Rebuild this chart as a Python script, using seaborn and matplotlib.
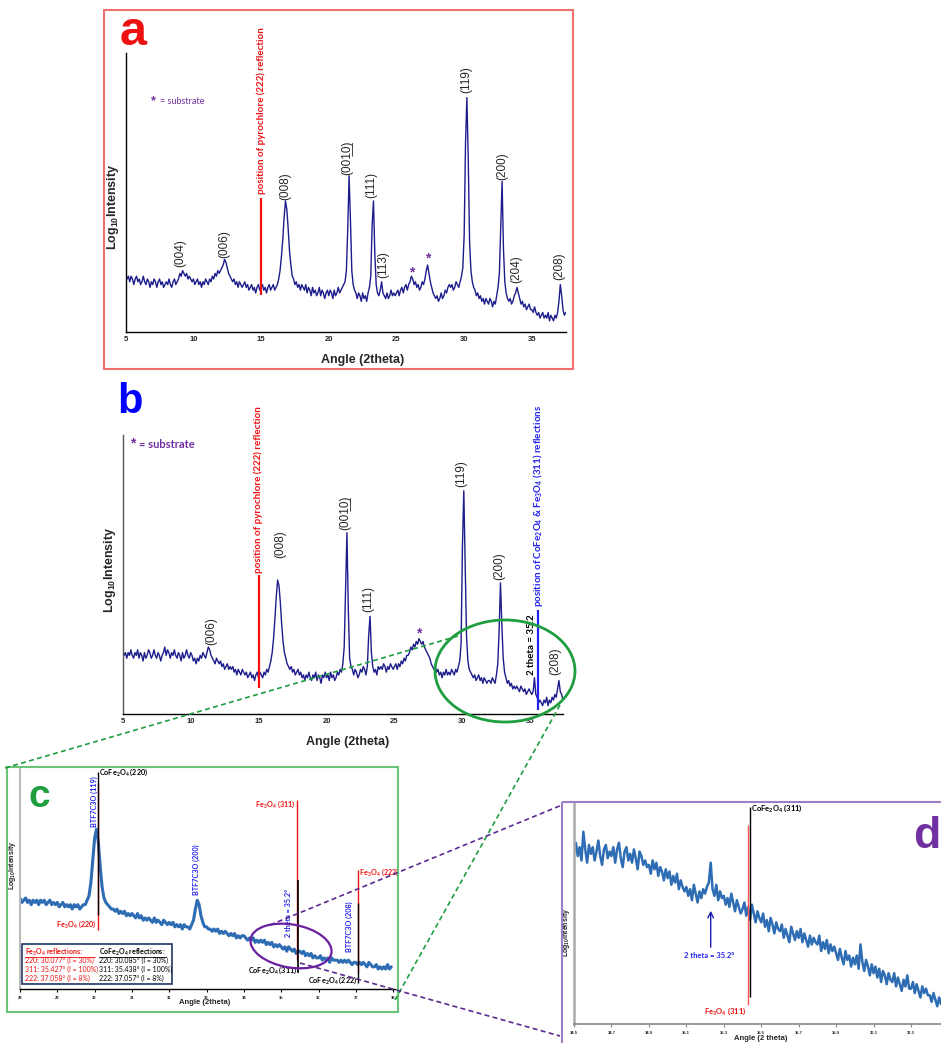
import numpy as np
import matplotlib
matplotlib.use('Agg')
import matplotlib.pyplot as plt
import seaborn as sns
from matplotlib.patches import Rectangle, Ellipse

# ---------------- data ----------------
# Panel a: log10 intensity (relative units), 2theta from 5.0 step 0.1
int_a = [
    21, 19, 20, 18, 20, 19, 17, 19, 20, 18,   # 5
    19, 17, 18, 20, 18, 17, 19, 18, 16, 18,   # 6
    17, 19, 18, 16, 18, 19, 17, 18, 16, 17,   # 7
    18, 17, 19, 17, 16, 18, 19, 17, 18, 19,   # 8
    21, 20, 22, 21, 20, 21, 19, 20, 19, 18,   # 9
    19, 17, 18, 19, 17, 18, 16, 18, 17, 19,   # 10
    18, 17, 19, 18, 20, 19, 21, 20, 22, 21,   # 11
    22, 23, 24, 26, 25, 23, 21, 20, 19, 18,   # 12
    19, 17, 18, 16, 18, 17, 16, 17, 18, 16,   # 13
    17, 15, 16, 17, 15, 16, 14, 16, 17, 15,   # 14
    16, 17, 15, 16, 14, 16, 17, 15, 16, 17,   # 15
    15, 16, 17, 19, 22, 27, 33, 41, 47, 44,   # 16
    37, 29, 24, 20, 19, 17, 18, 16, 17, 15,   # 17
    17, 16, 15, 17, 14, 16, 15, 13, 16, 14,   # 18
    15, 13, 14, 16, 13, 15, 14, 12, 14, 15,   # 19
    13, 15, 14, 12, 15, 13, 14, 16, 14, 15,   # 20
    16, 17, 18, 22, 37, 56, 40, 22, 17, 15,   # 21
    14, 12, 14, 13, 11, 14, 12, 13, 11, 14,   # 22
    16, 20, 38, 47, 28, 17, 14, 13, 15, 18,   # 23
    14, 13, 12, 14, 12, 13, 15, 13, 14, 13,   # 24
    14, 15, 13, 15, 16, 14, 16, 17, 15, 17,   # 25
    18, 20, 19, 17, 18, 16, 17, 15, 16, 18,   # 26
    17, 19, 22, 24, 21, 18, 16, 14, 13, 12,   # 27
    13, 11, 12, 14, 12, 13, 15, 14, 16, 17,   # 28
    16, 17, 15, 16, 18, 17, 16, 18, 20, 23,   # 29
    35, 68, 84, 62, 32, 22, 18, 16, 15, 13,   # 30
    14, 12, 13, 11, 12, 10, 12, 11, 10, 12,   # 31
    11, 9, 11, 10, 13, 16, 21, 38, 54, 30,    # 32
    18, 14, 12, 11, 12, 10, 11, 13, 14, 16,   # 33
    14, 12, 10, 11, 9, 10, 8, 9, 10, 8,       # 34
    8, 7, 9, 7, 6, 7, 5, 6, 7, 5,             # 35
    6, 5, 7, 4, 6, 5, 4, 6, 5, 7,             # 36
    11, 17, 13, 8, 6, 7,                      # 37
]
# Panel b
int_b = [
    23, 21, 22, 20, 22, 21, 23, 21, 20, 22,   # 5
    21, 23, 20, 22, 21, 19, 22, 20, 21, 23,   # 6
    22, 20, 21, 23, 21, 20, 22, 21, 19, 21,   # 7
    22, 24, 21, 23, 22, 20, 22, 21, 23, 21,   # 8
    20, 22, 21, 19, 22, 20, 21, 23, 21, 20,   # 9
    22, 21, 19, 20, 18, 20, 19, 21, 20, 22,   # 10
    21, 20, 22, 24, 23, 21, 20, 19, 18, 20,   # 11
    19, 18, 19, 17, 18, 16, 17, 18, 16, 17,   # 12
    16, 17, 15, 16, 14, 16, 15, 14, 16, 15,   # 13
    14, 15, 13, 14, 15, 13, 14, 12, 14, 15,   # 14
    13, 15, 14, 13, 15, 14, 16, 15, 17, 19,   # 15
    22, 27, 34, 42, 48, 46, 40, 32, 26, 22,   # 16
    20, 18, 17, 16, 17, 15, 16, 14, 15, 16,   # 17
    14, 15, 13, 14, 12, 14, 13, 15, 13, 12,   # 18
    14, 13, 15, 12, 14, 13, 11, 14, 13, 15,   # 19
    13, 14, 12, 15, 13, 14, 12, 13, 15, 14,   # 20
    16, 15, 18, 24, 45, 65, 38, 20, 17, 16,   # 21
    14, 16, 15, 13, 14, 16, 15, 17, 16, 14,   # 22
    17, 28, 35, 22, 17, 15, 16, 14, 17, 16,   # 23
    17, 16, 18, 17, 15, 17, 16, 18, 17, 16,   # 24
    17, 18, 16, 18, 17, 19, 18, 20, 19, 21,   # 25
    21, 22, 24, 23, 25, 24, 26, 25, 27, 26,   # 26
    25, 26, 24, 23, 22, 21, 20, 18, 17, 16,   # 27
    17, 15, 16, 14, 15, 13, 15, 14, 16, 14,   # 28
    15, 14, 16, 15, 14, 16, 15, 17, 19, 25,   # 29
    60, 80, 55, 28, 19, 16, 15, 14, 13, 14,   # 30
    12, 13, 14, 12, 13, 11, 13, 12, 11, 12,   # 31
    12, 11, 13, 12, 11, 14, 18, 30, 47, 32,   # 32
    20, 15, 13, 11, 12, 10, 11, 9, 10, 9,     # 33
    10, 9, 8, 10, 9, 8, 9, 7, 8, 9,           # 34
    8, 7, 8, 13, 7, 6, 4, 5, 4, 3,            # 35
    5, 4, 6, 3, 5, 4, 6, 5, 7, 6,             # 36
    9, 12, 8, 7, 5,                           # 37
]
# Panel c: 2theta from 28.00 step 0.05
int_c = [
    41, 39, 40, 41, 39, 40, 38, 40, 39, 40, 38, 40, 39, 40, 38, 39, 40, 38, 39, 38,  # 28
    39, 37, 38, 39, 37, 38, 37, 38, 36, 38, 37, 38, 36, 37, 38, 38, 40, 42, 48, 58,  # 29
    68, 72, 66, 55, 46, 41, 39, 38, 37, 36, 36, 35, 36, 34, 35, 34, 35, 33, 34, 33,  # 30
    34, 33, 32, 34, 32, 33, 31, 32, 31, 32, 31, 30, 32, 30, 31, 30, 29, 31, 30, 29,  # 31
    30, 29, 30, 28, 29, 28, 29, 27, 29, 28, 28, 27, 29, 31, 36, 40, 38, 33, 30, 28,  # 32
    28, 27, 27, 26, 27, 26, 27, 25, 26, 25, 26, 25, 24, 25, 24, 25, 23, 24, 23, 24,  # 33
    24, 23, 22, 23, 22, 23, 21, 22, 21, 22, 21, 22, 20, 21, 20, 21, 19, 20, 19, 20,  # 34
    19, 18, 19, 17, 19, 18, 17, 18, 16, 17, 17, 16, 17, 15, 16, 15, 16, 14, 15, 14,  # 35
    14, 15, 13, 14, 13, 14, 12, 14, 13, 13, 13, 12, 13, 12, 13, 12, 13, 12, 11, 12,  # 36
    12, 11, 12, 11, 12, 11, 10, 12, 11, 10, 10, 11, 9, 10, 9, 10, 9, 11, 9, 10,      # 37
]
# Panel d: 2theta from 34.50 step 0.01
int_d = [
    78, 82, 76, 80, 74, 87, 79, 73, 81, 77,   # 34.5
    80, 74, 78, 83, 76, 72, 79, 81, 75, 78,   # 34.6
    76, 80, 73, 79, 82, 75, 71, 78, 80, 74,   # 34.7
    77, 73, 79, 75, 70, 78, 76, 72, 74, 71,   # 34.8
    72, 68, 74, 70, 73, 67, 71, 69, 65, 70,   # 34.9
    66, 69, 63, 67, 64, 68, 61, 65, 62, 60,   # 35.0
    62, 58, 61, 56, 63, 59, 55, 60, 57, 61,   # 35.1
    59, 62, 64, 73, 61, 58, 63, 56, 60, 57,   # 35.2
    58, 54, 57, 53, 59, 55, 51, 56, 53, 50,   # 35.3
    52, 55, 49, 53, 47, 54, 50, 46, 51, 48,   # 35.4
    46, 50, 44, 47, 42, 48, 45, 41, 46, 43,   # 35.5
    42, 45, 39, 43, 40, 37, 44, 41, 38, 42,   # 35.6
    39, 43, 37, 41, 38, 35, 40, 36, 39, 37,   # 35.7
    36, 40, 33, 37, 34, 38, 32, 36, 33, 35,   # 35.8
    32, 29, 34, 30, 27, 33, 29, 31, 26, 30,   # 35.9
    27, 31, 25, 36, 28, 24, 29, 26, 22, 27,   # 36.0
    23, 26, 21, 25, 19, 24, 22, 18, 23, 20,   # 36.1
    19, 23, 17, 21, 18, 15, 20, 17, 22, 16,   # 36.2
    16, 19, 14, 18, 15, 12, 17, 14, 16, 13,   # 36.3
    13, 10, 14, 11, 8, 12, 9,                 # 36.4
]
theta_a = 5.0 + 0.1 * np.arange(len(int_a))
theta_b = 5.0 + 0.1 * np.arange(len(int_b))
theta_c = 28.0 + 0.05 * np.arange(len(int_c))
theta_d = 34.5 + 0.01 * np.arange(len(int_d))

hkl_a = ['(004)', '(006)', '(008)', '(001\u03320\u0332)', '(111)', '(113)', '(119)', '(200)', '(204)', '(208)']
hkl_a_x = [9.0, 12.26, 16.76, 21.4, 23.16, 24.0, 30.18, 32.83, 33.87, 37.0]
hkl_a_y = [23.3, 26.5, 47.3, 56.3, 48, 19.4, 85.7, 54.5, 17.6, 18.6]
sub_a_x = [26.1, 27.3]
sub_a_y = [21.5, 26.2]

hkl_b = ['(006)', '(008)', '(001\u03320\u0332)', '(111)', '(119)', '(200)', '(208)']
hkl_b_x = [11.5, 16.57, 21.35, 23.06, 29.9, 32.7, 36.8]
hkl_b_y = [24.7, 55.9, 66, 36.6, 81.4, 48, 14]
sub_b_x = [26.8]
sub_b_y = [29]

xt_ab = [5, 10, 15, 20, 25, 30, 35]
xt_c = [28, 29, 30, 31, 32, 33, 34, 35, 36, 37, 38]
xt_d = [34.5, 34.7, 34.9, 35.1, 35.3, 35.5, 35.7, 35.9, 36.1, 36.3]

fe3o4_refl = ['220: 30.077\u00b0 (I = 30%)', '311: 35.427\u00b0 (I = 100%)', '222: 37.058\u00b0 (I = 8%)']
cofe2o4_refl = ['220: 30.085\u00b0 (I = 30%)', '311: 35.438\u00b0 (I = 100%)', '222: 37.057\u00b0 (I = 8%)']

# ---------------- style ----------------
sns.set_style('white')
plt.rcParams['font.family'] = ['Liberation Sans', 'DejaVu Sans']
plt.rcParams['mathtext.default'] = 'regular'

NAVY = '#1c1c8c'
RED = '#ee1111'
BLUE = '#2222ee'
PURPLE = '#7030a0'
GREEN = '#1f9e40'
CBLUE = '#2e6db4'
CAL = ['Lato', 'DejaVu Sans']

W, H = 941, 1043
fig = plt.figure(figsize=(W / 100, H / 100), dpi=100)


def ax_px(l, t, r, b):
    return fig.add_axes([l / W, 1 - b / H, (r - l) / W, (b - t) / H])


def T(px, py, s, **kw):
    return fig.text(px / W, 1 - py / H, s, **kw)


def style_axes(ax, xt, xlim, lsz, ycol='black', ylw=1.0, xcol='black', xlw=1.0, tick_len=0):
    ax.set_xlim(*xlim)
    ax.set_ylim(0, 100)
    ax.set_yticks([])
    ax.set_xticks(xt)
    ax.set_xticklabels([('%g' % v) for v in xt], fontweight='bold')
    ax.tick_params(axis='x', length=tick_len, width=0.8, color=xcol, labelsize=lsz, pad=3, bottom=True)
    for s in ['top', 'right']:
        ax.spines[s].set_visible(False)
    ax.spines['left'].set_color(ycol)
    ax.spines['left'].set_linewidth(ylw)
    ax.spines['bottom'].set_color(xcol)
    ax.spines['bottom'].set_linewidth(xlw)
    ax.set_xlabel('')
    ax.set_ylabel('')
    ax.patch.set_alpha(0)


# ---------------- panel a ----------------
axa = ax_px(125.7, 53, 566, 332)
sns.lineplot(x=theta_a, y=int_a, ax=axa, color=NAVY, linewidth=1.0)
style_axes(axa, xt_ab, (5, 37.52), 5.5)
for s, x, y in zip(hkl_a, hkl_a_x, hkl_a_y):
    axa.text(x, y, s, rotation=90, ha='center', va='bottom', fontsize=8.5)
for x, y in zip(sub_a_x, sub_a_y):
    axa.text(x, y, '*', ha='center', va='center', color=PURPLE, fontsize=10, fontweight='bold')
axa.vlines(15, 13.3, 48, color=RED, linewidth=1.6)
axa.text(15, 49.5, 'position of pyrochlore (222) reflection', rotation=90, ha='center', va='bottom',
         color=RED, fontsize=7, fontweight='bold', family=CAL)
T(153, 101, '*', color=PURPLE, fontsize=9, fontweight='bold', ha='center', va='center')
T(160, 102, '= substrate', color=PURPLE, fontsize=6.5, family=CAL, ha='left', va='center')
T(120, 45, 'a', color=RED, fontsize=35, fontweight='bold', va='baseline')
T(363, 360, 'Angle (2theta)', fontsize=9, fontweight='bold', ha='center', va='center')
T(113, 207, 'Log$_{10}$Intensity', fontsize=9, fontweight='bold', ha='center', va='center', rotation=90)

# ---------------- panel b ----------------
axb = ax_px(122.7, 435, 563, 714)
sns.lineplot(x=theta_b, y=int_b, ax=axb, color=NAVY, linewidth=1.0)
style_axes(axb, xt_ab, (5, 37.4), 5.5, ycol='#555555')
for s, x, y in zip(hkl_b, hkl_b_x, hkl_b_y):
    axb.text(x, y, s, rotation=90, ha='center', va='bottom', fontsize=8.5)
for x, y in zip(sub_b_x, sub_b_y):
    axb.text(x, y, '*', ha='center', va='center', color=PURPLE, fontsize=10, fontweight='bold')
axb.vlines(15, 9.3, 49.8, color=RED, linewidth=1.6)
axb.text(15, 50.5, 'position of pyrochlore (222) reflection', rotation=90, ha='center', va='bottom',
         color=RED, fontsize=7, fontweight='bold', family=CAL)
axb.vlines(35.56, 1.4, 37.3, color=BLUE, linewidth=1.6)
axb.text(35.56, 38.4, 'position of CoFe$_2$O$_4$ & Fe$_3$O$_4$ (311) reflections', rotation=90,
         ha='center', va='bottom', color=BLUE, fontsize=7, fontweight='bold', family=CAL)
axb.text(35.07, 14, '2 theta = 35.2', rotation=90, ha='center', va='bottom', color='black',
         fontsize=7, fontweight='bold', family=CAL)
T(133, 443, '*', color=PURPLE, fontsize=10, fontweight='bold', ha='center', va='center')
T(139, 445, '= substrate', color=PURPLE, fontsize=8, family=CAL, fontweight='bold', ha='left', va='center')
T(117, 413, 'b', color='#0000ff', fontsize=30, fontweight='bold', va='baseline')
T(348, 742, 'Angle (2theta)', fontsize=9, fontweight='bold', ha='center', va='center')
T(110, 570, 'Log$_{10}$Intensity', fontsize=9, fontweight='bold', ha='center', va='center', rotation=90)

# ---------------- panel c ----------------
axc = ax_px(20, 767, 395, 989)
sns.lineplot(x=theta_c, y=int_c, ax=axc, color=CBLUE, linewidth=2.2)
style_axes(axc, xt_c, (28, 38.05), 3, ycol='#bbbbbb', ylw=1.5, tick_len=2)
axc.tick_params(axis='x', pad=3)
csz = 5.2
axc.vlines(30.077, 26.6, 92.8, color=RED, linewidth=1.0)
axc.vlines(30.085, 33.3, 97.7, color='black', linewidth=1.0)
axc.text(30.06, 29.3, 'Fe$_3$O$_4$ (220)', ha='right', va='center', color=RED, fontsize=csz,
         fontweight='bold', family=CAL)
axc.text(30.12, 97.7, 'CoFe$_2$O$_4$ (220)', ha='left', va='center', color='black', fontsize=csz,
         fontweight='bold', family=CAL)
axc.text(29.98, 73, 'BTF7C3O (119)', rotation=90, ha='center', va='bottom', color=BLUE, fontsize=csz,
         fontweight='bold', family=CAL)
axc.text(32.73, 42.3, 'BTF7C3O (200)', rotation=90, ha='center', va='bottom', color=BLUE, fontsize=csz,
         fontweight='bold', family=CAL)
axc.vlines(35.427, 13.1, 85.1, color=RED, linewidth=1.0)
axc.vlines(35.438, 7.2, 49.1, color='black', linewidth=1.2)
axc.text(35.38, 83.3, 'Fe$_3$O$_4$ (311)', ha='right', va='center', color=RED, fontsize=csz,
         fontweight='bold', family=CAL)
axc.text(35.43, 8.6, 'CoFe$_2$O$_4$ (311)', ha='right', va='center', color='black', fontsize=csz,
         fontweight='bold', family=CAL)
axc.text(35.19, 23.4, '2 theta = 35.2\u00b0', rotation=90, ha='center', va='bottom', color=BLUE,
         fontsize=csz, fontweight='bold', family=CAL)
axc.vlines(37.058, 7.2, 53.6, color=RED, linewidth=1.0)
axc.vlines(37.057, 2.7, 38.7, color='black', linewidth=1.0)
axc.text(37.09, 52.7, 'Fe$_3$O$_4$ (222)', ha='left', va='center', color=RED, fontsize=csz,
         fontweight='bold', family=CAL)
axc.text(37.05, 4.0, 'CoFe$_2$O$_4$ (222)', ha='right', va='center', color='black', fontsize=csz,
         fontweight='bold', family=CAL)
axc.text(36.84, 16.7, 'BTF7C3O (208)', rotation=90, ha='center', va='bottom', color=BLUE, fontsize=csz,
         fontweight='bold', family=CAL)
# reflections legend box
axc.add_patch(Rectangle((0.005, 0.0225), 0.4, 0.18, transform=axc.transAxes, facecolor='white',
                        edgecolor='#1f3864', linewidth=1.2, zorder=5))
lsz = 5
axc.text(0.013, 0.167, 'Fe$_3$O$_4$ reflections:', transform=axc.transAxes, color=RED, fontsize=lsz,
         fontweight='bold', family=CAL, va='center', zorder=6)
axc.text(0.211, 0.167, 'CoFe$_2$O$_4$ reflections:', transform=axc.transAxes, color='black', fontsize=lsz,
         fontweight='bold', family=CAL, va='center', zorder=6)
axc.plot([0.013, 0.2], [0.145, 0.145], transform=axc.transAxes, color=RED, linewidth=0.6, zorder=6)
axc.plot([0.211, 0.39], [0.145, 0.145], transform=axc.transAxes, color='black', linewidth=0.6, zorder=6)
for i, (s1, s2) in enumerate(zip(fe3o4_refl, cofe2o4_refl)):
    yy = 0.128 - i * 0.04
    axc.text(0.013, yy, s1, transform=axc.transAxes, color=RED, fontsize=lsz, family=CAL,
             va='center', zorder=6)
    axc.text(0.211, yy, s2, transform=axc.transAxes, color='black', fontsize=lsz, family=CAL,
             va='center', zorder=6)
T(29, 807, 'c', color=GREEN, fontsize=28, fontweight='bold', va='baseline')
T(205, 1003, 'Angle (2theta)', fontsize=5.5, fontweight='bold', ha='center', va='center')
T(12, 865, 'Log$_{10}$Intensity', fontsize=5, fontweight='bold', ha='center', va='center', rotation=90)

# ---------------- panel d ----------------
axd = ax_px(574, 803, 941, 1024)
sns.lineplot(x=theta_d, y=int_d, ax=axd, color=CBLUE, linewidth=1.8)
style_axes(axd, xt_d, (34.5, 36.46), 3, ycol='#aaaaaa', ylw=1.8, xcol='#888888', xlw=1.2, tick_len=2)
axd.tick_params(axis='x', pad=3)
axd.vlines(35.427, 8.6, 90, color='#ff5555', linewidth=1.0)
axd.vlines(35.438, 12.2, 98.2, color='black', linewidth=1.0)
axd.text(35.42, 5.9, 'Fe$_3$O$_4$ (311)', ha='right', va='center', color=RED, fontsize=5.5,
         fontweight='bold', family=CAL)
axd.text(35.445, 97.7, 'CoFe$_2$O$_4$ (311)', ha='left', va='center', color='black', fontsize=5.5,
         fontweight='bold', family=CAL)
axd.annotate('', xy=(35.23, 52.5), xytext=(35.23, 33.5),
             arrowprops=dict(arrowstyle='->', color='#1a1ab0', lw=1.0))
axd.text(35.22, 30.8, '2 theta = 35.2\u00b0', ha='center', va='center', color=BLUE, fontsize=5.5,
         fontweight='bold', family=CAL)
T(913, 848, 'd', color=PURPLE, fontsize=32, fontweight='bold', va='baseline')
T(761, 1039, 'Angle (2 theta)', fontsize=5.5, fontweight='bold', ha='center', va='center')
T(567, 932, 'Log$_{10}$Intensity', fontsize=5, fontweight='bold', ha='center', va='center', rotation=90)

# ---------------- overlay: frames, ellipses, connectors ----------------
ov = fig.add_axes([0, 0, 1, 1], zorder=10)
ov.set_xlim(0, W)
ov.set_ylim(H, 0)
ov.axis('off')
ov.patch.set_alpha(0)
ov.add_patch(Rectangle((104, 10), 469, 359, fill=False, edgecolor='#f07070', linewidth=1.5))
ov.add_patch(Rectangle((7, 767), 391, 245, fill=False, edgecolor='#6cc47a', linewidth=1.5))
ov.add_patch(Rectangle((562, 802), 400, 260, fill=False, edgecolor='#a07cc8', linewidth=1.5))
ov.add_patch(Ellipse((505, 671), 140, 102, fill=False, edgecolor=GREEN, linewidth=2.0))
ov.add_patch(Ellipse((291, 946), 82, 43, angle=10, fill=False, edgecolor='#6a1fa0', linewidth=1.6))
ov.plot([5, 458], [768, 636], color=GREEN, linestyle='--', linewidth=1.2, dashes=(3, 2))
ov.plot([560, 395], [705, 1000], color=GREEN, linestyle='--', linewidth=1.2, dashes=(3, 2))
ov.plot([270, 562], [925, 805], color='#5b2a91', linestyle='--', linewidth=1.2, dashes=(3, 2))
ov.plot([300, 560], [963, 1036], color='#5b2a91', linestyle='--', linewidth=1.2, dashes=(3, 2))

fig.savefig('out.png', dpi=100)
